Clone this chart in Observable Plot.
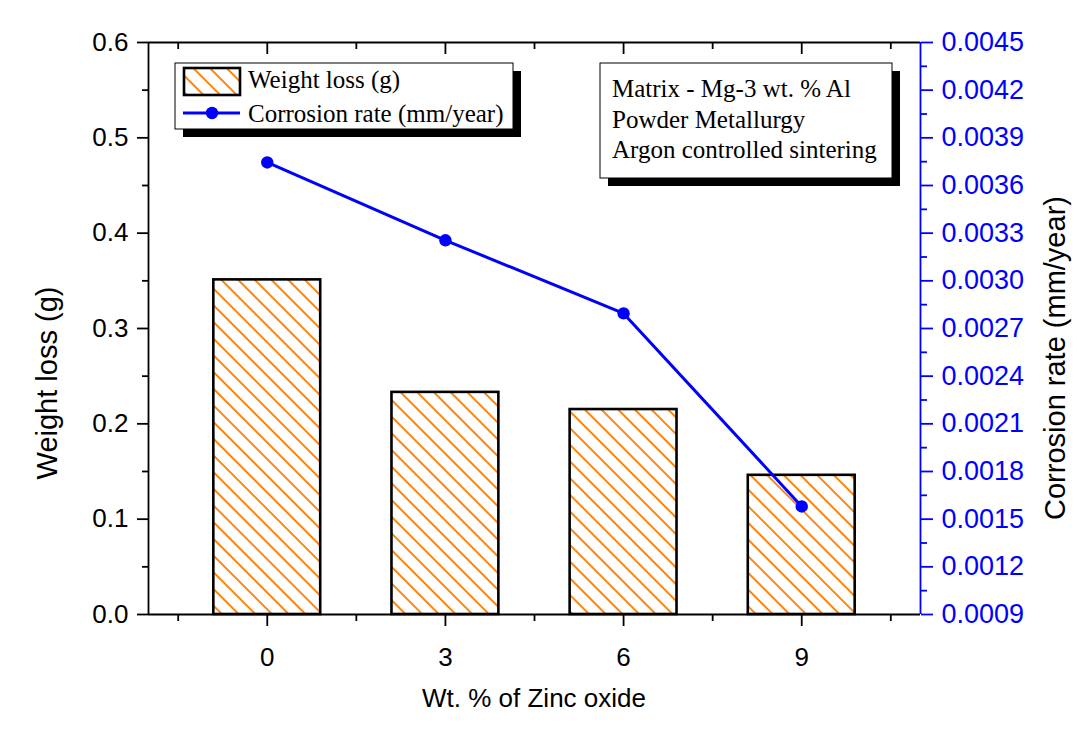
<!DOCTYPE html>
<html><head><meta charset="utf-8">
<script src="https://cdn.jsdelivr.net/npm/d3@7"></script>
<script src="https://cdn.jsdelivr.net/npm/@observablehq/plot@0.6"></script>
<style>html,body{margin:0;padding:0;background:#fff;} #chart svg{display:block}</style>
</head><body><div id="chart"></div>
<script>
// ---- data ----
const zincOxide = [0, 3, 6, 9];
const weightLoss = [0.351, 0.233, 0.215, 0.146];
const corrosionRate = [0.003745, 0.003255, 0.002795, 0.00158];
const leftTicks = [0, 0.1, 0.2, 0.3, 0.4, 0.5, 0.6];
const leftMinorTicks = [0.05, 0.15, 0.25, 0.35, 0.45, 0.55];
const rightTicks = [0.0009, 0.0012, 0.0015, 0.0018, 0.0021, 0.0024, 0.0027, 0.0030, 0.0033, 0.0036, 0.0039, 0.0042, 0.0045];
const rightMinorTicks = [0.00105, 0.00135, 0.00165, 0.00195, 0.00225, 0.00255, 0.00285, 0.00315, 0.00345, 0.00375, 0.00405, 0.00435];
const xTicks = [0, 3, 6, 9];
const xMinorTicks = [-1.5, 1.5, 4.5, 7.5, 10.5];
const legendLabels = ["Weight loss (g)", "Corrosion rate (mm/year)"];
const noteLines = ["Matrix - Mg-3 wt. % Al", "Powder Metallurgy", "Argon controlled sintering"];
const xTitle = "Wt. % of Zinc oxide";
const yLeftTitle = "Weight loss (g)";
const yRightTitle = "Corrosion rate (mm/year)";

// ---- scales mapping ----
const R0 = 0.0009, R1 = 0.0045, L1 = 0.6;
const toLeft = v => (v - R0) / (R1 - R0) * L1;
const fromLeft = v => R0 + v / L1 * (R1 - R0);
const data = zincOxide.map((z, i) => ({z, w: weightLoss[i], c: corrosionRate[i]}));
const half = 0.9;
const AX = 1.8;
const BLUE = "#0000ff";

const plot = Plot.plot({
  width: 1076, height: 738,
  marginLeft: 148, marginRight: 156, marginTop: 42, marginBottom: 124,
  x: {type: "linear", domain: [-2, 11], label: null},
  y: {domain: [0, 0.6], label: null},
  style: {fontFamily: "'Liberation Sans', Arial, sans-serif", fontSize: "26px", color: "#000", background: "#fff", overflow: "visible"},
  marks: [
    Plot.rect(data, {x1: d => d.z - half, x2: d => d.z + half, y1: 0, y2: "w", fill: "url(#hatch)", stroke: "#000", strokeWidth: 2.6}),
    Plot.ruleY([0.6], {stroke: "#000", strokeWidth: AX}),
    Plot.ruleY([0], {stroke: "#000", strokeWidth: AX}),
    Plot.ruleX([-2], {stroke: "#000", strokeWidth: AX}),
    Plot.ruleX([11], {stroke: BLUE, strokeWidth: AX}),
    Plot.axisY(leftTicks, {anchor: "left", tickSize: 11, tickPadding: 9, tickFormat: d3.format(".1f"), strokeWidth: AX}),
    Plot.axisY(leftMinorTicks, {anchor: "left", tickSize: 6, fill: "none", strokeWidth: AX}),
    Plot.axisX(xTicks, {anchor: "bottom", tickSize: 12, tickPadding: 21, tickFormat: d => String(d), strokeWidth: AX}),
    Plot.axisX(xMinorTicks, {anchor: "bottom", tickSize: 7, fill: "none", strokeWidth: AX}),
    Plot.axisX(xTicks, {anchor: "top", tickSize: 11, dy: 11, fill: "none", strokeWidth: AX}),
    Plot.axisX(xMinorTicks, {anchor: "top", tickSize: 6, dy: 6, fill: "none", strokeWidth: AX}),
    Plot.axisY(rightTicks.map(toLeft), {anchor: "right", tickSize: 12, tickPadding: 9, fontSize: 27, tickFormat: d => d3.format(".4f")(fromLeft(d)), color: BLUE, strokeWidth: AX}),
    Plot.axisY(rightMinorTicks.map(toLeft), {anchor: "right", tickSize: 6, fill: "none", stroke: BLUE, strokeWidth: AX}),
    Plot.line(data, {x: "z", y: d => toLeft(d.c), stroke: BLUE, strokeWidth: 3}),
    Plot.dot(data, {x: "z", y: d => toLeft(d.c), r: 6.2, fill: BLUE, stroke: "none"})
  ]
});

const svg = d3.select(plot);
const defs = svg.insert("defs", ":first-child");
const pat = defs.append("pattern").attr("id", "hatch").attr("patternUnits", "userSpaceOnUse")
  .attr("width", 11.8).attr("height", 11.8).attr("patternTransform", "rotate(-45)");
pat.append("rect").attr("width", 11.8).attr("height", 11.8).attr("fill", "#fff");
pat.append("line").attr("x1", 5.9).attr("x2", 5.9).attr("y1", -1).attr("y2", 12.8)
  .attr("stroke", "#ff8000").attr("stroke-width", 1.9);

// axis titles
const sans = "'Liberation Sans', Arial, sans-serif";
const serif = "'Liberation Serif', 'Times New Roman', serif";
svg.append("text").attr("transform", "translate(57,383) rotate(-90)").attr("text-anchor", "middle")
  .attr("font-family", sans).attr("font-size", 29).attr("fill", "#000").text(yLeftTitle);
svg.append("text").attr("transform", "translate(1065,358) rotate(-90)").attr("text-anchor", "middle")
  .attr("font-family", sans).attr("font-size", 29).attr("fill", "#000").text(yRightTitle);
svg.append("text").attr("x", 534).attr("y", 707).attr("text-anchor", "middle")
  .attr("font-family", sans).attr("font-size", 26).attr("fill", "#000").text(xTitle);

// legend boxes
function box(x, y, w, h) {
  const g = svg.append("g").attr("text-anchor", "start");
  g.append("rect").attr("x", x + 8).attr("y", y + 8).attr("width", w).attr("height", h).attr("fill", "#000");
  g.append("rect").attr("x", x).attr("y", y).attr("width", w).attr("height", h).attr("fill", "#fff").attr("stroke", "#000").attr("stroke-width", 1);
  return g;
}
const lg = box(175, 63, 338, 66);
lg.append("rect").attr("x", 184).attr("y", 68).attr("width", 56).attr("height", 27)
  .attr("fill", "url(#hatch)").attr("stroke", "#000").attr("stroke-width", 2.6);
lg.append("text").attr("x", 248).attr("y", 88).attr("text-anchor", "start").attr("font-family", serif).attr("font-size", 25).attr("fill", "#000").text(legendLabels[0]);
lg.append("line").attr("x1", 183).attr("x2", 240).attr("y1", 113).attr("y2", 113).attr("stroke", BLUE).attr("stroke-width", 3);
lg.append("circle").attr("cx", 212).attr("cy", 113).attr("r", 6.2).attr("fill", BLUE);
lg.append("text").attr("x", 248).attr("y", 122).attr("text-anchor", "start").attr("font-family", serif).attr("font-size", 25).attr("fill", "#000").text(legendLabels[1]);

const nb = box(600, 63, 292, 115);
noteLines.forEach((t, i) => {
  nb.append("text").attr("x", 612).attr("y", 97 + i * 30.5).attr("text-anchor", "start").attr("font-family", serif).attr("font-size", 25).attr("fill", "#000").text(t);
});

document.getElementById("chart").appendChild(plot);
</script>
</body></html>
